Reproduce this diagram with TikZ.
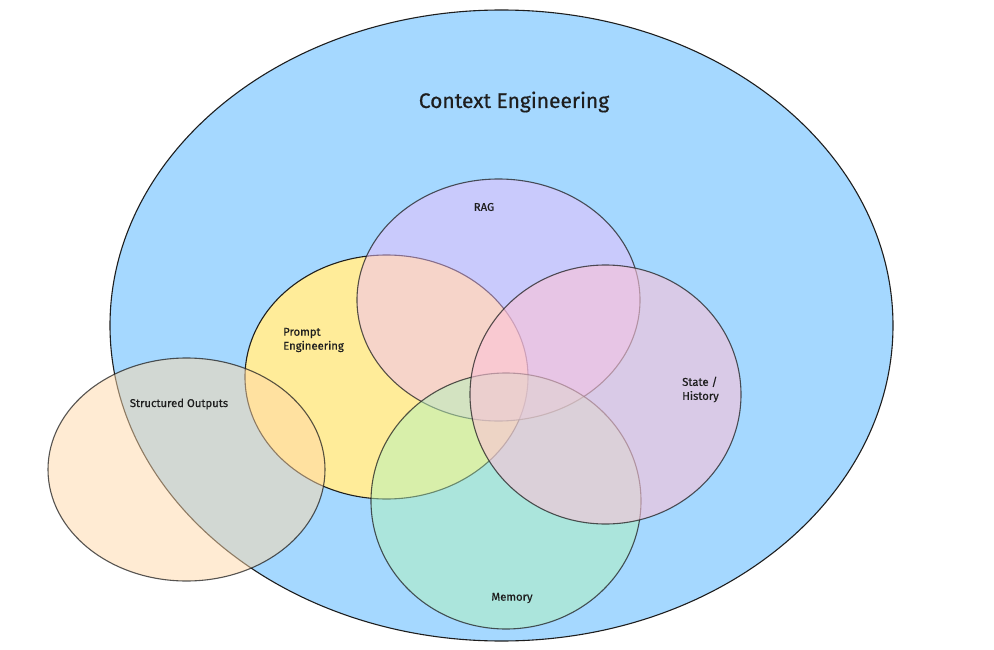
\documentclass[tikz,border=0pt]{standalone}
\usepackage{fontspec}
\setmainfont{Fira Sans}
\newfontfamily\handfont[FakeBold=0.6]{Fira Sans}
\usetikzlibrary{shapes.geometric}
\definecolor{cblue}{HTML}{A5D8FF}
\definecolor{cyellow}{HTML}{FFEC99}
\definecolor{corange}{HTML}{FFD8A8}
\definecolor{cgrape}{HTML}{EEBEFA}
\definecolor{cgreen}{HTML}{B2F2BB}
\definecolor{cpink}{HTML}{FCC2D7}
\definecolor{cstroke}{HTML}{1E1E1E}
\tikzset{
  blob/.style={ellipse, inner sep=0pt, draw=cstroke, line width=1.1pt, draw opacity=0.75},
  lbl/.style={text=cstroke, font=\handfont\fontsize{11.3}{14}\selectfont, inner sep=0pt},
  lblleft/.style={lbl, align=left, anchor=west},
}
\begin{document}
\begin{tikzpicture}[x=1pt,y=-1pt]
\useasboundingbox (0,0) rectangle (994,650);
\fill[white] (0,0) rectangle (994,650);
\node[blob, fill=cblue, draw opacity=1, minimum width=783pt, minimum height=631pt] (ctx) at (501.5,325.5) {};
\node[blob, fill=cyellow, draw opacity=1, minimum width=283pt, minimum height=244pt] (prompt) at (386.5,377) {};
\node[blob, fill=corange, fill opacity=0.5, minimum width=277pt, minimum height=223pt] (struct) at (186.5,469.5) {};
\node[blob, fill=cgrape, fill opacity=0.5, minimum width=283pt, minimum height=242pt] (rag) at (498.5,300) {};
\node[blob, fill=cgreen, fill opacity=0.5, minimum width=270pt, minimum height=256pt] (memory) at (506,501) {};
\node[blob, fill=cpink, fill opacity=0.6, minimum width=271pt, minimum height=259pt] (state) at (605.5,394.5) {};
\node[lbl, font=\handfont\fontsize{21}{25}\selectfont] (ctxlbl) at (514,102) {Context Engineering};
\node[lbl] (raglbl) at (484,207) {RAG};
\node[lblleft] (promptlbl) at (283,340) {Prompt\\Engineering};
\node[lbl] (structlbl) at (179,404) {Structured Outputs};
\node[lblleft] (statelbl) at (682,389.5) {State /\\History};
\node[lbl] (memlbl) at (512,598) {Memory};
\end{tikzpicture}
\end{document}
